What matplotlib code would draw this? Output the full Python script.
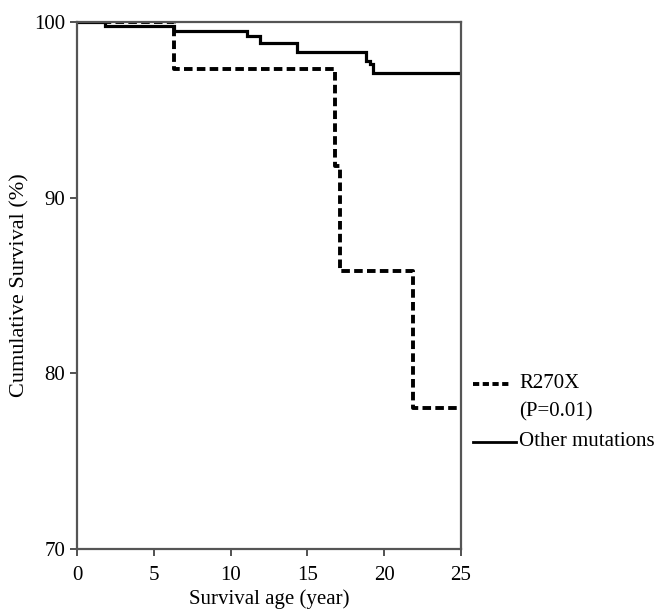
import matplotlib
matplotlib.use("Agg")
import matplotlib.pyplot as plt
from matplotlib.lines import Line2D

# --- datos (curvas de Kaplan-Meier) ---
r270x_t = [0, 6.3, 16.8, 17.1, 21.9, 25]
r270x_s = [100, 97.3, 91.8, 85.8, 78.0, 78.0]

otras_t = [0, 1.8, 6.3, 11.1, 11.9, 14.3, 18.8, 19.1, 19.3, 25]
otras_s = [100, 99.8, 99.5, 99.2, 98.8, 98.3, 97.8, 97.6, 97.1, 97.1]

xticks = [0, 5, 10, 15, 20, 25]
yticks = [70, 80, 90, 100]

plt.rcParams['font.family'] = ['Liberation Serif', 'DejaVu Serif']
fs = 15

fig = plt.figure(figsize=(6.58, 6.12), dpi=100)
ax = fig.add_axes([77/658, 1 - 549/612, (461-77)/658, (549-22)/612])

ax.step(otras_t, otras_s, where='post', color='black', lw=2.3, solid_joinstyle='miter')
ax.step(r270x_t, r270x_s, where='post', color='black', lw=2.8,
        linestyle=(0, (2.2, 1.1)), dash_capstyle='butt')

ax.set_xlim(0, 25)
ax.set_ylim(70, 100)
ax.set_xticks(xticks)
ax.set_yticks(yticks)
ax.tick_params(direction='out', length=5, width=1.2, labelsize=fs, colors='#333333',
               labelcolor='black', top=False, right=False)
ax.tick_params(axis='x', pad=7)
for s in ax.spines.values():
    s.set_color('#555555')
    s.set_linewidth(1.6)

ax.set_xlabel('Survival age (year)', fontsize=fs, labelpad=3)
ax.set_ylabel('Cumulative Survival (%)', fontsize=16, labelpad=3)

# leyenda manual a la derecha
fig.add_artist(Line2D([473/658, 511/658], [1 - 384/612] * 2, color='black', lw=2.8,
                      linestyle=(0, (1.6, 0.9)), transform=fig.transFigure))
fig.text(519/658, 1 - 384/612, 'R270X', fontsize=fs, va='center', ha='left')
fig.text(519/658, 1 - 412/612, '(P=0.01)', fontsize=fs, va='center', ha='left')
fig.add_artist(Line2D([473/658, 516/658], [1 - 442/612] * 2, color='black', lw=2.0,
                      transform=fig.transFigure))
fig.text(519/658, 1 - 442/612, 'Other mutations', fontsize=fs, va='center', ha='left')

fig.savefig('out.png', dpi=100)
